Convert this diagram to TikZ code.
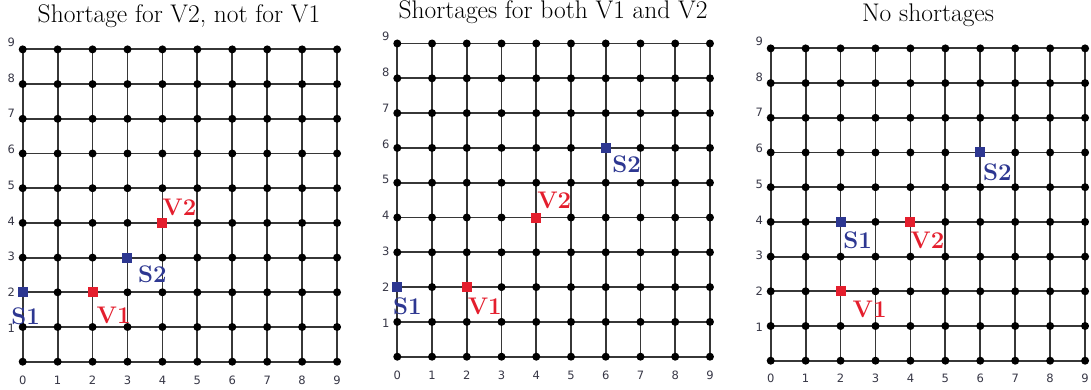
\documentclass[tikz,border=0pt]{standalone}
\usepackage{fontspec}
\newfontfamily\axisfont{DejaVu Sans}
\definecolor{gridc}{RGB}{55,55,55}
\definecolor{axisc}{RGB}{55,55,70}
\definecolor{vred}{RGB}{228,30,45}
\definecolor{sblue}{RGB}{45,55,145}
\tikzset{
  dot/.style={circle,fill=black,inner sep=0pt,minimum size=8pt},
  gline/.style={draw=gridc,line width=1.8pt},
  ticklab/.style={font=\axisfont\fontsize{11.5}{12}\selectfont,text=axisc,inner sep=0pt},
  ptitle/.style={font=\fontsize{25.5}{30}\selectfont,inner sep=0pt,anchor=base},
  redsq/.style={fill=vred,minimum size=10pt,inner sep=0pt},
  bluesq/.style={fill=sblue,minimum size=10pt,inner sep=0pt},
  redlab/.style={font=\bfseries\fontsize{24}{28}\selectfont,text=vred,inner sep=0pt},
  bluelab/.style={font=\bfseries\fontsize{24}{28}\selectfont,text=sblue,inner sep=0pt},
}
% #1 name, #2 x0, #3 y of row 0, #4 dx, #5 dy, #6 y of x tick labels
\newcommand\gridpanel[6]{%
  \foreach \i in {0,...,9}{%
    \foreach \j in {0,...,9}{%
      \coordinate (#1-\i-\j) at ({#2+\i*#4},{#3-\j*#5});
    }%
  }%
  \foreach \j in {0,...,9}{%
    \draw[gline] (#1-0-\j) -- (#1-9-\j);
    \draw[gline] (#1-\j-0) -- (#1-\j-9);
  }%
  \foreach \i in {0,...,9}{%
    \foreach \j in {0,...,9}{%
      \node[dot] (#1d-\i-\j) at (#1-\i-\j) {};
    }%
  }%
  \foreach \i in {0,...,9}{%
    \node[ticklab] (#1x-\i) at ({#2+\i*#4},#6) {\i};
  }%
  \foreach \j in {1,...,9}{%
    \node[ticklab] (#1y-\j) at ({#2-11.5},{#3-\j*#5-(\j-2)*1.0}) {\j};
  }%
}
\begin{document}
\begin{tikzpicture}[x=1pt,y=-1pt]
\useasboundingbox (0,0) rectangle (1091,390);
\fill[white] (0,0) rectangle (1091,390);

% Panel 1
\node[ptitle] (t1) at (179,23) {Shortage for V2, not for V1};
\gridpanel{p}{22.7}{361.7}{34.93}{34.7}{380}
\node[bluesq] (pS1) at (p-0-2) {};
\node[redsq] (pV1) at (p-2-2) {};
\node[bluesq] (pS2) at (p-3-3) {};
\node[redsq] (pV2) at (p-4-4) {};
\node[bluelab] (pS1l) at ([shift={(3,24)}]p-0-2) {S1};
\node[redlab] (pV1l) at ([shift={(21,23)}]p-2-2) {V1};
\node[bluelab] (pS2l) at ([shift={(25,17)}]p-3-3) {S2};
\node[redlab] (pV2l) at ([shift={(17,-16)}]p-4-4) {V2};

% Panel 2
\node[ptitle] (t2) at (553,19) {Shortages for both V1 and V2};
\gridpanel{q}{397.3}{356.7}{34.74}{34.8}{375}
\node[bluesq] (qS1) at (q-0-2) {};
\node[redsq] (qV1) at (q-2-2) {};
\node[redsq] (qV2) at (q-4-4) {};
\node[bluesq] (qS2) at (q-6-6) {};
\node[bluelab] (qS1l) at ([shift={(10,19)}]q-0-2) {S1};
\node[redlab] (qV1l) at ([shift={(18,19)}]q-2-2) {V1};
\node[redlab] (qV2l) at ([shift={(18,-17)}]q-4-4) {V2};
\node[bluelab] (qS2l) at ([shift={(21,16)}]q-6-6) {S2};

% Panel 3
\node[ptitle] (t3) at (928,22) {No shortages};
\gridpanel{r}{770.7}{360.7}{34.93}{34.7}{378}
\node[bluesq] (rS1) at (r-2-4) {};
\node[redsq] (rV1) at (r-2-2) {};
\node[redsq] (rV2) at (r-4-4) {};
\node[bluesq] (rS2) at (r-6-6) {};
\node[bluelab] (rS1l) at ([shift={(17,18)}]r-2-4) {S1};
\node[redlab] (rV1l) at ([shift={(29,18)}]r-2-2) {V1};
\node[redlab] (rV2l) at ([shift={(17,18)}]r-4-4) {V2};
\node[bluelab] (rS2l) at ([shift={(17,20)}]r-6-6) {S2};
\end{tikzpicture}
\end{document}
